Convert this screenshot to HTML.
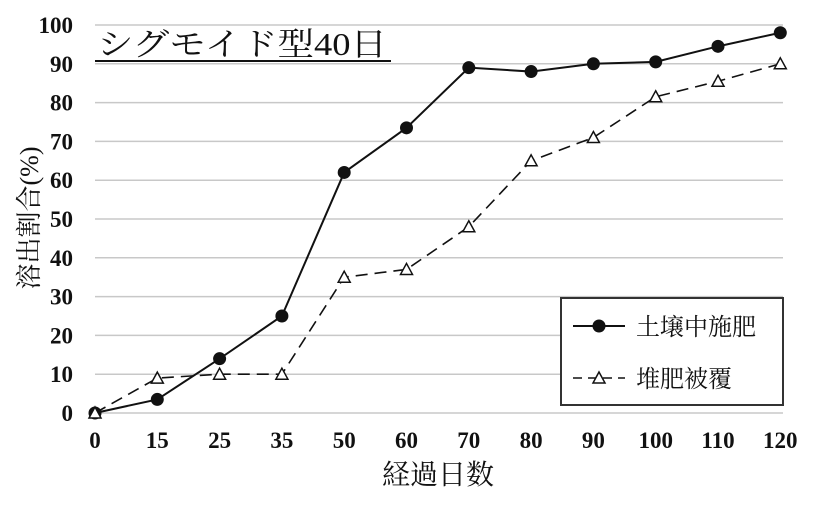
<!DOCTYPE html>
<html><head><meta charset="utf-8"><style>
body{margin:0;background:#fff;}
text{font-family:"Liberation Serif","Noto Serif CJK SC",serif;fill:#111;}
</style></head><body>
<svg id="chart" width="833" height="500" xmlns="http://www.w3.org/2000/svg">
<g id="grid"></g><g id="ylabels"></g><g id="xlabels"></g><g id="series"></g>
<text x="97" y="55" font-size="32" textLength="290" lengthAdjust="spacingAndGlyphs">シグモイド型40日</text>
<line x1="95" y1="61" x2="391" y2="61" stroke="#111" stroke-width="2"/>
<text transform="translate(38,218) rotate(-90)" text-anchor="middle" font-size="26">溶出割合(%)</text>
<text x="438" y="484" text-anchor="middle" font-size="28">経過日数</text>
<g>
<rect x="561" y="298" width="222" height="107" fill="#fff" stroke="#333" stroke-width="2"/>
<line x1="573" y1="326" x2="625" y2="326" stroke="#111" stroke-width="2"/>
<circle cx="599" cy="326" r="6.5" fill="#111"/>
<text x="636" y="335" font-size="24">土壌中施肥</text>
<line x1="573" y1="378" x2="625" y2="378" stroke="#111" stroke-width="1.6" stroke-dasharray="9,6"/>
<polygon points="599,372 605,383 593,383" fill="#fff" stroke="#111" stroke-width="1.5"/>
<text x="636" y="387" font-size="24">堆肥被覆</text>
</g>
</svg>
<script>
const categories=["0","15","25","35","50","60","70","80","90","100","110","120"];
const soilValues=[0,3.5,14,25,62,73.5,89,88,90,90.5,94.5,98];
const compostValues=[0,9,10,10,35,37,48,65,71,81.5,85.5,90];
const yTicks=[0,10,20,30,40,50,60,70,80,90,100];
const NS="http://www.w3.org/2000/svg";
const x=i=>95+i*62.3;
const y=v=>413-v*3.88;
function mk(tag,attrs,parent){const e=document.createElementNS(NS,tag);for(const k in attrs)e.setAttribute(k,attrs[k]);parent.appendChild(e);return e;}
const grid=document.getElementById('grid'),yl=document.getElementById('ylabels'),xl=document.getElementById('xlabels'),se=document.getElementById('series');
yTicks.forEach(t=>{
 const l=mk('line',{x1:95,x2:783,y1:y(t),y2:y(t),stroke:'#c8c8c8','stroke-width':1.5},grid);
 
 
 const tx=mk('text',{x:73,y:y(t)+8,'text-anchor':'end','font-size':23,'font-weight':'bold'},yl);
 tx.textContent=t;
 
 
});
categories.forEach((c,i)=>{
 const tx=mk('text',{x:x(i),y:448,'text-anchor':'middle','font-size':23,'font-weight':'bold'},xl);
 tx.textContent=c;
 
 
});
const p2=compostValues.map((v,i)=>x(i)+','+y(v)).join(' ');
const l2=mk('polyline',{points:p2,fill:'none',stroke:'#111','stroke-width':1.6,'stroke-dasharray':'12,7'},se);


const p1=soilValues.map((v,i)=>x(i)+','+y(v)).join(' ');
const l1=mk('polyline',{points:p1,fill:'none',stroke:'#111','stroke-width':2},se);


soilValues.forEach((v,i)=>{
 const c=mk('circle',{cx:x(i),cy:y(v),r:6.5,fill:'#111'},se);
 
 
});
compostValues.forEach((v,i)=>{
 const cx=x(i),cy=y(v);
 const t=mk('polygon',{points:`${cx},${cy-6} ${cx+6},${cy+5} ${cx-6},${cy+5}`,fill:'#fff',stroke:'#111','stroke-width':1.5},se);
 
 
});
</script>
</body></html>
